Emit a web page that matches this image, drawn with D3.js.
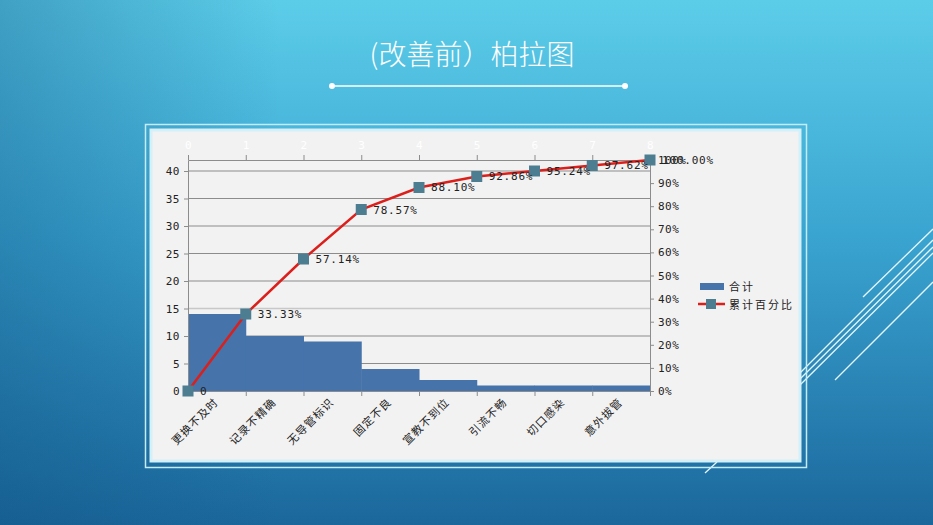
<!DOCTYPE html>
<html lang="zh">
<head>
  <meta charset="utf-8" />
  <title>(改善前）柏拉图</title>
  <script src="https://cdn.jsdelivr.net/npm/d3@7"></script>
  <style>
    html, body { margin:0; padding:0; overflow:hidden; }
    svg text { font-family:"DejaVu Sans Mono", "Liberation Mono", monospace; }
    .cjk { font-family:"Noto Sans CJK SC", sans-serif; }
    .axis path, .axis line { stroke:#8c8c8c; }
  </style>
</head>
<body>
<div id="chart"></div>
<script>
// --- data ------------------------------------------------------------------
const categories = ["更换不及时","记录不精确","无导管标识","固定不良","宣教不到位","引流不畅","切口感染","意外拔管"];
const counts     = [14, 10, 9, 4, 2, 1, 1, 1];
const cumPct     = [0, 33.33, 57.14, 78.57, 88.10, 92.86, 95.24, 97.62, 100];
const cumLabels  = ["0","33.33%","57.14%","78.57%","88.10%","92.86%","95.24%","97.62%","100.00%"];
const leftTicks  = [0,5,10,15,20,25,30,35,40];
const rightTicks = [0,10,20,30,40,50,60,70,80,90,100];
const topTicks   = [0,1,2,3,4,5,6,7,8];
const legendNames = ["合计","累计百分比"];

// --- layout ----------------------------------------------------------------
const W = 933, H = 525;
const L = 188, R = 650, T = 160, B = 391;

const svg = d3.select("#chart").append("svg").attr("width", W).attr("height", H);
const defs = svg.append("defs");
const bg = defs.append("linearGradient").attr("id","bg").attr("x1",0).attr("y1",0).attr("x2",0).attr("y2",1);
bg.append("stop").attr("offset","0%").attr("stop-color","#5ccde9");
bg.append("stop").attr("offset","45%").attr("stop-color","#3aa4d0");
bg.append("stop").attr("offset","100%").attr("stop-color","#1b679c");
const side = defs.append("linearGradient").attr("id","side").attr("x1",0).attr("y1",0).attr("x2",1).attr("y2",0);
side.append("stop").attr("offset","0%").attr("stop-color","#0d4f80").attr("stop-opacity",0.35);
side.append("stop").attr("offset","30%").attr("stop-color","#0d4f80").attr("stop-opacity",0);

svg.append("rect").attr("width",W).attr("height",H).attr("fill","url(#bg)");
svg.append("rect").attr("width",W).attr("height",H).attr("fill","url(#side)");

// decorative lines
const deco = [[800,373,933,240],[800,379,933,247],[800,385,933,253],[863,297,933,229],[835,380,933,282],[705,473,717,462]];
svg.selectAll(".deco").data(deco).join("line")
  .attr("x1",d=>d[0]).attr("y1",d=>d[1]).attr("x2",d=>d[2]).attr("y2",d=>d[3])
  .attr("stroke","#e6f7fc").attr("stroke-width",1.3);

// title
svg.append("text").attr("class","cjk").attr("x",472).attr("y",65)
  .attr("text-anchor","middle").attr("fill","#fff").attr("font-size",28).attr("font-weight",300)
  .text("(改善前）柏拉图");
svg.append("line").attr("x1",332).attr("x2",625).attr("y1",86).attr("y2",86)
  .attr("stroke","#fff").attr("stroke-width",1.5);
svg.selectAll(".dot").data([332,625]).join("circle")
  .attr("cx",d=>d).attr("cy",86).attr("r",3).attr("fill","#fff");

// panel
svg.append("rect").attr("x",145.5).attr("y",124.5).attr("width",661).attr("height",343)
  .attr("fill","none").attr("stroke","#c4ecf8").attr("stroke-width",1.5);
svg.append("rect").attr("x",151).attr("y",130).attr("width",649).attr("height",331)
  .attr("fill","#f2f2f2").attr("stroke","#d4f0f9").attr("stroke-width",3);

// scales
const xBand = d3.scaleBand().domain(categories).range([L,R]).padding(0);
const xLin  = d3.scaleLinear().domain([0,8]).range([L,R]);
const yL    = d3.scaleLinear().domain([0,42]).range([B,T]);
const yR    = d3.scaleLinear().domain([0,100]).range([B,T]);

// gridlines
svg.append("g").selectAll("line").data(leftTicks.slice(1)).join("line")
  .attr("x1",L).attr("x2",R).attr("y1",d=>yL(d)).attr("y2",d=>yL(d))
  .attr("stroke",d=>d===15 ? "#c8c8c8" : "#8c8c8c").attr("stroke-width",d=>d===15 ? 1.5 : 1);

// bars
svg.append("g").selectAll("rect").data(counts).join("rect")
  .attr("x",(d,i)=>xBand(categories[i])).attr("width",xBand.bandwidth()+0.5)
  .attr("y",d=>yL(d)).attr("height",d=>B-yL(d)).attr("fill","#4573aa");

// axes
const fs = 11;
const gl = svg.append("g").attr("class","axis").attr("transform",`translate(${L},0)`)
  .call(d3.axisLeft(yL).tickValues(leftTicks).tickSize(4).tickPadding(4).tickSizeOuter(0));
const gr = svg.append("g").attr("class","axis").attr("transform",`translate(${R},0)`)
  .call(d3.axisRight(yR).tickValues(rightTicks).tickSize(4).tickPadding(4).tickSizeOuter(0).tickFormat(d=>d+"%"));
const gb = svg.append("g").attr("class","axis").attr("transform",`translate(0,${B})`)
  .call(d3.axisBottom(xLin).tickValues(topTicks).tickSize(5).tickSizeOuter(0).tickFormat(""));
const gt = svg.append("g").attr("class","axis").attr("transform",`translate(0,${T})`)
  .call(d3.axisTop(xLin).tickValues(topTicks).tickSize(5).tickPadding(6).tickSizeOuter(0));
[gl,gr,gt].forEach(g => g.selectAll("text").attr("font-size",fs).attr("font-family","DejaVu Sans Mono")
  .attr("letter-spacing",0.5).attr("fill","#222"));
gt.selectAll("text").attr("fill","#ffffff");

// category labels
svg.append("g").selectAll("text").data(categories).join("text")
  .attr("class","cjk")
  .attr("transform",d=>`translate(${xBand(d)+xBand.bandwidth()/2+2},${B+12}) rotate(-45)`)
  .attr("text-anchor","end").attr("font-size",11).attr("fill","#222")
  .attr("letter-spacing",1)
  .text(d=>d);

// cumulative line
const line = d3.line().x((d,i)=>xLin(i)).y(d=>yR(d));
svg.append("path").datum(cumPct).attr("d",line)
  .attr("fill","none").attr("stroke","#dc1f1b").attr("stroke-width",2.5);
svg.append("g").selectAll("rect").data(cumPct).join("rect")
  .attr("x",(d,i)=>xLin(i)-5.5).attr("y",d=>yR(d)-5.5).attr("width",11).attr("height",11)
  .attr("fill","#4d7d90");
svg.append("g").selectAll("text").data(cumPct).join("text")
  .attr("x",(d,i)=>xLin(i)+12).attr("y",d=>yR(d)+4)
  .attr("font-size",fs).attr("fill","#222").attr("letter-spacing",0.8)
  .text((d,i)=>cumLabels[i]);

// legend
const lg = svg.append("g");
lg.append("rect").attr("x",700).attr("y",283).attr("width",24).attr("height",7).attr("fill","#4573aa");
lg.append("line").attr("x1",698).attr("x2",725).attr("y1",304).attr("y2",304).attr("stroke","#dc1f1b").attr("stroke-width",2.5);
lg.append("rect").attr("x",706).attr("y",299).attr("width",10).attr("height",10).attr("fill","#4d7d90");
lg.selectAll("text").data(legendNames).join("text").attr("class","cjk")
  .attr("x",729).attr("y",(d,i)=>291+i*18).attr("font-size",11).attr("fill","#222")
  .attr("letter-spacing",2).text(d=>d);
</script>
</body>
</html>
